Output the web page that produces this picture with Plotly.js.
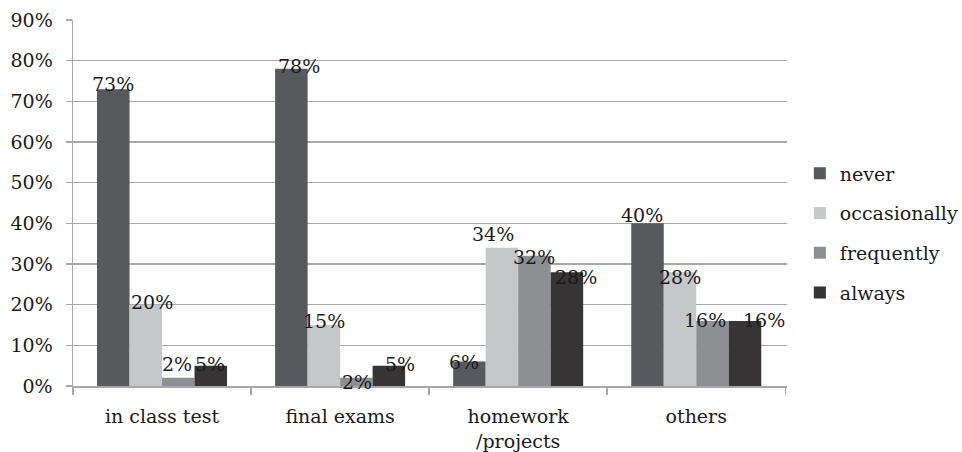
<!DOCTYPE html>
<html>
<head>
<meta charset="utf-8">
<script src="https://cdn.plot.ly/plotly-3.0.1.min.js"></script>
<style>
  html, body { margin: 0; padding: 0; background: #fff; }
  #chart { width: 962px; height: 452px; }
</style>
</head>
<body>
<div id="chart"></div>
<script>
// Assessment types on the x axis
const categories = ['in class test', 'final exams', 'homework<br>/projects', 'others'];

// Share of responses (%) per frequency answer
const never        = [73, 78, 6, 40];
const occasionally = [20, 15, 34, 28];
const frequently   = [2, 2, 32, 16];
const always       = [5, 5, 28, 16];

const seriesNames  = ['never', 'occasionally', 'frequently', 'always'];
const seriesValues = [never, occasionally, frequently, always];
const seriesColors = ['#58595c', '#c6c7c9', '#8e8f93', '#363435'];

const FONT = 'DejaVu Serif, Liberation Serif, serif';
const GRID = '#a7a7a7';
const BARGAP = 0.27;

// Label nudges in px (right / down) so neighbouring value labels don't
// collide; one row per series, one column per category.
const labelNudgeX = [
  [0, 8, -5, -6],
  [6, 0, -9, 0],
  [-1, 1, 0, -8],
  [-1, 11, 9, 19]
];
const labelNudgeY = [
  [3, 5, 8, 0],
  [5, 4, -6, 13],
  [-6, 12, 9, 7],
  [6, 6, 13, 7]
];

const traces = seriesValues.map((vals, i) => ({
  type: 'bar',
  name: seriesNames[i],
  legendgroup: seriesNames[i],
  x: categories,
  y: vals,
  marker: { color: seriesColors[i], line: { width: 0 } },
  hoverinfo: 'skip'
}));

// Value labels placed at the top of each bar
const nSeries = seriesValues.length;
const slot = (1 - BARGAP) / nSeries;
const labels = [];
seriesValues.forEach((vals, i) => {
  vals.forEach((v, j) => {
    labels.push({
      xref: 'x', yref: 'y',
      x: j + (i - (nSeries - 1) / 2) * slot,
      y: v,
      xshift: labelNudgeX[i][j],
      yshift: -5 - labelNudgeY[i][j],
      xanchor: 'center',
      yanchor: 'bottom',
      text: v + '%',
      showarrow: false,
      font: { family: FONT, size: 19, color: '#1a1a1a' }
    });
  });
});

const layout = {
  width: 962,
  height: 452,
  margin: { l: 73, r: 175, t: 20, b: 66, autoexpand: false },
  paper_bgcolor: '#ffffff',
  plot_bgcolor: '#ffffff',
  font: { family: FONT, size: 19, color: '#1a1a1a' },
  barmode: 'group',
  bargap: BARGAP,
  bargroupgap: 0,
  showlegend: true,
  legend: {
    x: 1.018, xanchor: 'left',
    y: 0.418, yanchor: 'middle',
    traceorder: 'grouped',
    tracegroupgap: 12,
    itemwidth: 30,
    font: { family: FONT, size: 19, color: '#1a1a1a' },
    bgcolor: 'rgba(0,0,0,0)'
  },
  xaxis: {
    type: 'category',
    showgrid: false,
    showline: true,
    linecolor: GRID,
    linewidth: 1.5,
    ticks: 'outside',
    tickson: 'boundaries',
    ticklen: 7,
    tickcolor: GRID,
    tickwidth: 1.5,
    ticklabelstandoff: 13,
    tickfont: { family: FONT, size: 19, color: '#1a1a1a' },
    fixedrange: true
  },
  yaxis: {
    range: [0, 90],
    dtick: 10,
    tick0: 0,
    ticksuffix: '%',
    showgrid: true,
    gridcolor: GRID,
    gridwidth: 1.5,
    zeroline: false,
    showline: true,
    linecolor: GRID,
    linewidth: 1.5,
    ticks: 'outside',
    ticklen: 6,
    tickcolor: GRID,
    tickwidth: 1.5,
    ticklabelstandoff: 9,
    tickfont: { family: FONT, size: 19, color: '#1a1a1a' },
    fixedrange: true
  },
  annotations: labels
};

Plotly.newPlot('chart', traces, layout, { displayModeBar: false, staticPlot: true });
</script>
</body>
</html>
